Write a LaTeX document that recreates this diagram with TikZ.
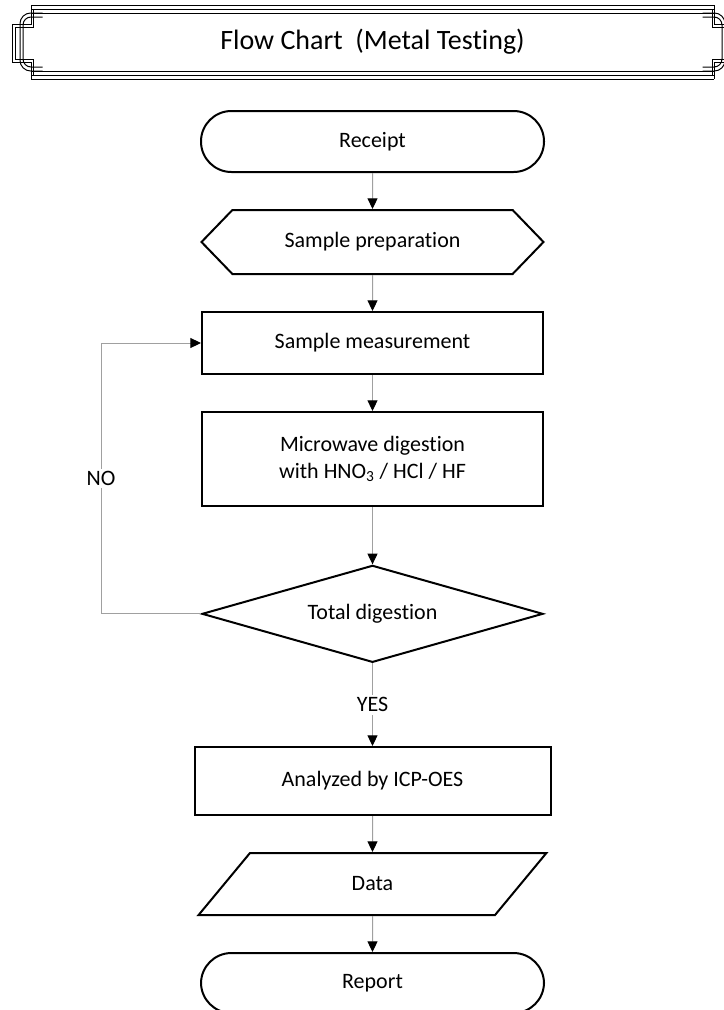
\documentclass[tikz,border=0pt]{standalone}
\usepackage{fontspec}
\setmainfont{Carlito}[Ligatures=NoCommon]
\usepackage{tikz}
\usetikzlibrary{arrows.meta,positioning,shapes.geometric,shapes.symbols}
\definecolor{linegray}{RGB}{160,160,160}

\begin{document}
\begin{tikzpicture}[x=0.75pt,y=-0.75pt,node distance=27pt,
                    >={Triangle[width=7.5pt,length=8pt,color=black]},
                    every node/.style={font=\fontsize{16.5}{20}\selectfont,inner sep=2pt}]
  \tikzset{
    process/.style={draw,line width=1.5pt,rectangle,minimum width=255.75pt,minimum height=46.5pt},
    terminal/.style={process,minimum width=257.25pt,minimum height=45.75pt,rounded corners=22.8pt},
    prepare/.style={draw,line width=1.5pt,signal,signal to=west and east,signal pointer angle=92,
                    minimum width=256.5pt,minimum height=48pt},
    decision/.style={draw,line width=1.5pt,diamond,aspect=3.5,minimum width=255.75pt,minimum height=72.75pt},
    io/.style={draw,line width=1.5pt,trapezium,trapezium left angle=63.4,trapezium right angle=116.6,
               trapezium stretches=true,minimum width=261.75pt,minimum height=46.5pt},
    flow/.style={->,draw=linegray,line width=0.75pt},
    frame/.style={draw=black,line width=0.75pt}
  }
  \useasboundingbox (0,0) rectangle (724,1010);

  % title frame
  \foreach \y in {5,9,13,71,75,79}
    \draw[frame] (31,\y) -- (714,\y);
  \foreach \s in {1,-1}{
    \begin{scope}[shift={(372.5,0)},xscale=\s]
      \draw[frame] (-341.5,5) -- (-341.5,24) -- (-360.5,24) -- (-360.5,62) -- (-341.5,62) -- (-341.5,79);
      \draw[frame] (-339.5,9) -- (-339.5,27) -- (-357.5,27) -- (-357.5,59) -- (-339.5,59) -- (-339.5,75);
      \draw[frame,rounded corners=8] (-330,13) -- (-352.5,13) -- (-352.5,71) -- (-330,71);
      \draw[frame,rounded corners=6] (-330,17) -- (-349.5,17) -- (-349.5,67) -- (-330,67);
    \end{scope}
  }
  \node[font=\fontsize{21}{25}\selectfont] (title) at (372.5,42) {Flow Chart~ (Metal Testing)};

  % chart
  \node[terminal] (receipt) at (372.5,141.5) {Receipt};
  \node[prepare]  (prep)  [below=of receipt] {Sample preparation};
  \node[process]  (meas)  [below=of prep]    {Sample measurement};
  \node[process,minimum height=70.5pt,align=center] (micro) [below=of meas]
        {Microwave digestion\\with HNO\textsubscript{3} / HCl / HF};
  \node[decision] (total) [below=43pt of micro] {Total digestion};
  \node[process,minimum width=267pt,minimum height=51pt] (icp) [below=62pt of total] {Analyzed by ICP-OES};
  \node[io]       (data)  [below=of icp]     {Data};
  \node[terminal,minimum height=45pt] (report) [below=of data] {Report};

  \path[flow]
        (receipt) edge (prep)
        (prep)    edge (meas)
        (meas)    edge (micro)
        (micro)   edge (total)
        (total)   edge node[fill=white] {YES} (icp)
        (icp)     edge (data)
        (data)    edge (report);
  \draw[flow] (total.west) -- ++(-100,0) |- node[pos=0.25,fill=white] {NO} (meas.west);
\end{tikzpicture}
\end{document}
